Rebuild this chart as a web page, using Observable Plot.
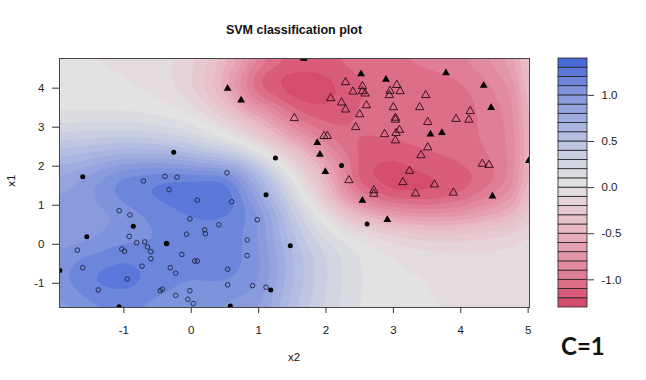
<!DOCTYPE html>
<html>
<head>
<meta charset="utf-8">
<script src="https://cdn.jsdelivr.net/npm/d3@7"></script>
<script src="https://cdn.jsdelivr.net/npm/@observablehq/plot@0.6"></script>
<style>
  html, body { margin: 0; padding: 0; background: #ffffff; }
  #wrap { position: relative; width: 646px; height: 380px; overflow: hidden; font-family: "Liberation Sans", Arial, sans-serif; color: #111; }
  #wrap svg { position: absolute; left: 0; top: 0; }
  .txt { position: absolute; line-height: 1; white-space: nowrap; }
  #title { left: 0; width: 588px; top: 24px; text-align: center; font-weight: bold; font-size: 12.5px; }
  #xlab { left: 244px; width: 100px; top: 352px; text-align: center; font-size: 11.5px; }
  #ylab { left: -8px; width: 40px; top: 175px; text-align: center; font-size: 11.5px; transform: rotate(-90deg); transform-origin: 50% 50%; }
  #cval { left: 561px; top: 334px; font-family: Lato, "Open Sans", sans-serif; font-weight: 700; font-size: 24px; }
</style>
</head>
<body>
<div id="wrap">
  <div id="main"></div>
  <div id="legend"></div>
  <div class="txt" id="title">SVM classification plot</div>
  <div class="txt" id="xlab">x2</div>
  <div class="txt" id="ylab">x1</div>
  <div class="txt" id="cval">C=1</div>
</div>
<script>
// ---------- data ----------
// axis ranges (data range, as in R's filled.contour)
const x2Range = [-1.955, 5.02];
const x1Range = [-1.62, 4.76];
const x2Ticks = [-1, 0, 1, 2, 3, 4, 5];
const x1Ticks = [-1, 0, 1, 2, 3, 4];

// decision-value legend levels (lower bound of each band) and labelled ticks
const levelStep = 0.1;
const levels = [-1.3,-1.2,-1.1,-1.0,-0.9,-0.8,-0.7,-0.6,-0.5,-0.4,-0.3,-0.2,-0.1,0.0,0.1,0.2,0.3,0.4,0.5,0.6,0.7,0.8,0.9,1.0,1.1,1.2,1.3];
const legendTicks = [-1.0, -0.5, 0.0, 0.5, 1.0];

// palette stops (band lower bound -> colour)
const colorStopValues = [-1.3, -1.0, -0.5, -0.2, 0.0, 0.2, 0.5, 1.0, 1.3];
const colorStopColors = ["#d54d6d", "#e07e96", "#e9b9c4", "#e6d3d8", "#e2e2e2", "#d3d6e0", "#b5bee2", "#7f92dc", "#4a6ad9"];

// decision values on a coarse grid
const gridX2 = [-2, -1.5, -1, -0.5, 0, 0.5, 1, 1.5, 2, 2.5, 3, 3.5, 4, 4.5, 5];
const gridX1 = [4.75, 4.25, 3.75, 3.25, 2.75, 2.25, 1.75, 1.25, 0.75, 0.25, -0.25, -0.75, -1.25, -1.75];
const decisionRows = [
  [0.02, 0.0, -0.02, -0.05, -0.15, -0.4, -0.85, -1.1, -1.1, -1.05, -1.0, -0.95, -0.9, -0.75, -0.5],
  [0.03, 0.02, 0.0, -0.05, -0.2, -0.6, -1.2, -1.28, -1.25, -1.1, -1.05, -1.05, -1.0, -0.88, -0.6],
  [0.05, 0.05, 0.04, 0.0, -0.12, -0.45, -1.05, -1.25, -1.25, -1.1, -1.05, -1.05, -1.05, -0.92, -0.7],
  [0.12, 0.12, 0.12, 0.1, 0.03, -0.2, -0.55, -1.0, -1.15, -1.07, -1.05, -1.05, -1.05, -0.95, -0.75],
  [0.35, 0.38, 0.4, 0.35, 0.25, 0.05, -0.25, -0.65, -1.0, -1.1, -1.08, -1.05, -1.05, -0.95, -0.8],
  [0.6, 0.65, 0.75, 0.75, 0.65, 0.5, 0.2, -0.2, -0.7, -1.15, -1.2, -1.12, -1.08, -0.98, -0.8],
  [0.8, 0.95, 1.15, 1.22, 1.22, 1.22, 0.7, 0.05, -0.5, -1.22, -1.27, -1.22, -1.15, -1.05, -0.75],
  [0.9, 1.0, 1.18, 1.22, 1.27, 1.36, 0.8, 0.25, -0.35, -1.05, -1.25, -1.25, -1.15, -0.9, -0.62],
  [0.9, 0.95, 1.0, 1.15, 1.2, 1.2, 1.05, 0.45, 0.0, -0.45, -0.7, -0.8, -0.75, -0.6, -0.4],
  [0.9, 0.95, 1.05, 1.1, 1.18, 1.18, 1.0, 0.5, 0.15, -0.02, -0.15, -0.25, -0.25, -0.2, -0.15],
  [1.0, 1.1, 1.18, 1.12, 1.15, 1.15, 1.05, 0.6, 0.3, 0.1, 0.0, -0.05, -0.07, -0.07, -0.05],
  [1.05, 1.22, 1.27, 1.18, 1.12, 1.15, 1.05, 0.62, 0.3, 0.1, 0.02, 0.0, -0.02, -0.02, -0.02],
  [1.0, 1.18, 1.22, 1.12, 1.05, 1.05, 1.0, 0.58, 0.3, 0.1, 0.02, 0.0, 0.0, 0.0, 0.0],
  [0.9, 1.0, 1.0, 1.0, 0.95, 0.95, 0.85, 0.5, 0.25, 0.08, 0.02, 0.0, 0.0, 0.0, 0.0]
];

// observations [x2, x1]
const circleSupport = [[-1.61,1.73],[-0.26,2.36],[-1.55,0.19],[-0.86,0.46],[-0.37,0.02],[1.25,2.21],[1.11,1.27],[1.47,-0.04],[1.18,-1.17],[0.58,-1.58],[-1.07,-1.60],[-1.95,-0.67],[2.23,2.02],[2.61,0.52]];
const circleOther = [[-0.71,1.62],[-0.39,1.74],[-0.21,1.72],[-0.33,1.40],[0.53,1.83],[0.09,1.13],[0.60,1.09],[-1.07,0.86],[-0.91,0.75],[-0.02,0.65],[0.98,0.63],[0.41,0.50],[-0.92,0.20],[-0.81,0.04],[-0.69,0.06],[-0.65,-0.07],[-0.60,-0.19],[-0.60,-0.37],[-0.07,0.26],[0.20,0.37],[0.21,0.27],[0.83,0.11],[0.83,-0.29],[-1.69,-0.15],[-1.61,-0.60],[-1.03,-0.12],[-0.99,-0.18],[-0.36,0.02],[-0.14,-0.26],[0.05,-0.43],[0.09,-0.43],[-0.73,-0.56],[-0.31,-0.60],[-0.23,-0.74],[0.54,-0.64],[-0.95,-0.89],[-1.38,-1.17],[-0.46,-1.19],[-0.43,-1.15],[-0.02,-1.19],[0.54,-1.04],[0.91,-1.06],[1.11,-1.10],[-0.23,-1.31],[-0.05,-1.41],[0.03,-1.52]];
const triangleSupport = [[0.54,3.99],[0.74,3.69],[1.67,4.76],[1.87,2.60],[1.91,2.30],[1.99,1.86],[2.52,4.36],[2.89,4.22],[3.78,4.39],[4.34,4.07],[4.45,3.50],[3.55,2.82],[3.72,2.86],[2.54,1.12],[2.91,0.63],[4.47,1.23],[5.01,2.14]];
const triangleOther = [[1.53,3.23],[1.97,2.77],[2.02,2.77],[2.29,4.15],[2.54,4.05],[2.40,3.91],[2.54,3.92],[2.58,3.86],[2.07,3.74],[2.23,3.63],[2.29,3.45],[2.60,3.56],[2.50,3.33],[2.44,3.00],[3.05,4.08],[2.95,3.93],[3.10,3.92],[2.94,3.82],[3.48,3.82],[3.00,3.51],[3.39,3.51],[3.03,3.24],[3.03,3.19],[3.51,3.13],[3.09,2.93],[3.04,2.85],[2.87,2.82],[3.03,2.66],[3.93,3.21],[4.14,3.41],[4.12,3.19],[3.51,2.48],[3.41,2.28],[2.34,1.64],[3.24,1.88],[3.14,1.59],[3.61,1.53],[2.71,1.38],[2.71,1.29],[3.33,1.30],[3.89,1.32],[4.32,2.06],[4.42,2.03]];

// ---------- build tables for the library ----------
const gridPoints = [];
decisionRows.forEach((row, i) => row.forEach((v, j) => gridPoints.push({x2: gridX2[j], x1: gridX1[i], value: v})));
const toObj = (arr) => arr.map(([x2, x1]) => ({x2, x1}));

// contour thresholds: lowest band open-ended so the whole panel is filled
const thresholds = [-5, ...levels.slice(1)];

const colorScale = {type: "linear", domain: colorStopValues, range: colorStopColors, clamp: true};
const fmtInt = d => String(d);

const mainPlot = Plot.plot({
  width: 646, height: 380,
  marginLeft: 59, marginRight: 117, marginTop: 58, marginBottom: 73,
  style: {fontFamily: "Liberation Sans, Arial, sans-serif", fontSize: "11.5px", color: "#1a1a1a", background: "transparent", overflow: "visible"},
  x: {domain: x2Range, label: null},
  y: {domain: x1Range, label: null},
  color: colorScale,
  marks: [
    Plot.contour(gridPoints, {x: "x2", y: "x1", fill: "value", thresholds, interpolate: "barycentric", pixelSize: 2, blur: 4, stroke: "none", clip: true}),
    Plot.dot(toObj(circleOther), {x: "x2", y: "x1", r: 2.3, fill: "none", stroke: "#1c2340", strokeWidth: 0.9, clip: true}),
    Plot.dot(toObj(circleSupport), {x: "x2", y: "x1", r: 2.5, fill: "#000", stroke: "none", clip: true}),
    Plot.dot(toObj(triangleOther), {x: "x2", y: "x1", symbol: "triangle", r: 3.1, fill: "none", stroke: "#2a0a14", strokeWidth: 0.9, clip: true}),
    Plot.dot(toObj(triangleSupport), {x: "x2", y: "x1", symbol: "triangle", r: 2.9, fill: "#000", stroke: "none", clip: true}),
    Plot.frame({stroke: "#444", strokeWidth: 1}),
    Plot.axisX({ticks: x2Ticks, tickFormat: fmtInt, tickSize: 6, tickPadding: 12, stroke: "#333", label: null}),
    Plot.axisY({ticks: x1Ticks, tickFormat: fmtInt, tickSize: 7, tickPadding: 8, stroke: "#333", label: null})
  ]
});
document.getElementById("main").appendChild(mainPlot);

const legendPlot = Plot.plot({
  width: 646, height: 380,
  marginLeft: 558, marginRight: 59, marginTop: 58, marginBottom: 73,
  style: {fontFamily: "Liberation Sans, Arial, sans-serif", fontSize: "11.5px", color: "#1a1a1a", background: "transparent", overflow: "visible"},
  y: {domain: [levels[0], levels[levels.length - 1] + levelStep], label: null},
  color: colorScale,
  marks: [
    Plot.rect(levels, {y1: d => d, y2: d => d + levelStep, fill: d => d, stroke: "#222", strokeWidth: 0.8}),
    Plot.axisY({anchor: "right", ticks: legendTicks, tickFormat: d => d.toFixed(1), tickSize: 6, tickPadding: 8, stroke: "#333", label: null})
  ]
});
document.getElementById("legend").appendChild(legendPlot);
</script>
</body>
</html>
